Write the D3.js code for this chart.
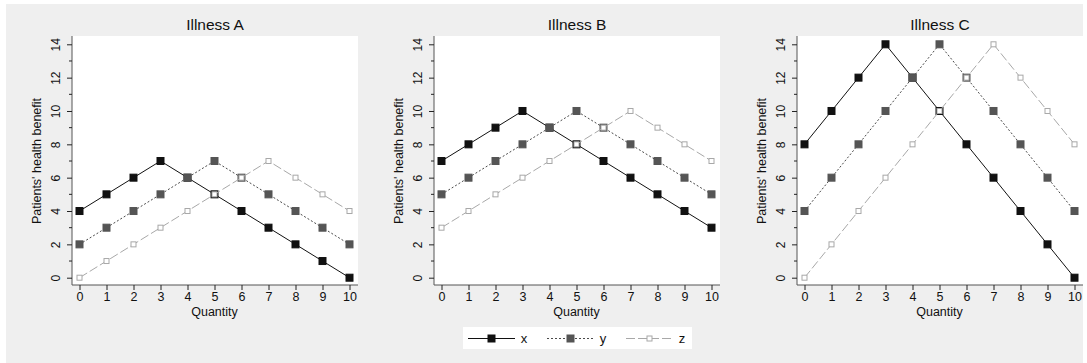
<!DOCTYPE html>
<html>
<head>
<meta charset="utf-8">
<script src="https://cdn.jsdelivr.net/npm/d3@7"></script>
<style>
  body { margin: 0; background: #fff; }
  svg { display: block; font-family: "Liberation Sans", Arial, sans-serif; }
</style>
</head>
<body>
<svg id="chart" width="1087" height="363"></svg>
<script>
// Chart data
const quantities = [0, 1, 2, 3, 4, 5, 6, 7, 8, 9, 10];
const panelTitles = ["Illness A", "Illness B", "Illness C"];
const seriesNames = ["x", "y", "z"];

const illnessA_x = [4, 5, 6, 7, 6, 5, 4, 3, 2, 1, 0];
const illnessA_y = [2, 3, 4, 5, 6, 7, 6, 5, 4, 3, 2];
const illnessA_z = [0, 1, 2, 3, 4, 5, 6, 7, 6, 5, 4];

const illnessB_x = [7, 8, 9, 10, 9, 8, 7, 6, 5, 4, 3];
const illnessB_y = [5, 6, 7, 8, 9, 10, 9, 8, 7, 6, 5];
const illnessB_z = [3, 4, 5, 6, 7, 8, 9, 10, 9, 8, 7];

const illnessC_x = [8, 10, 12, 14, 12, 10, 8, 6, 4, 2, 0];
const illnessC_y = [4, 6, 8, 10, 12, 14, 12, 10, 8, 6, 4];
const illnessC_z = [0, 2, 4, 6, 8, 10, 12, 14, 12, 10, 8];

const yMajorTicks = [0, 2, 4, 6, 8, 10, 12, 14];
const yMinorTicks = [1, 3, 5, 7, 9, 11, 13];

const panelData = [
    [illnessA_x, illnessA_y, illnessA_z],
    [illnessB_x, illnessB_y, illnessB_z],
    [illnessC_x, illnessC_y, illnessC_z]
];

// Styles per series
const styles = {
    x: { stroke: "#111", dash: null, fill: "#111", mstroke: "#111", size: 7 },
    y: { stroke: "#4a4a4a", dash: "2,2", fill: "#555", mstroke: "#555", size: 7 },
    z: { stroke: "#a8a8a8", dash: "9,3", fill: "#fff", mstroke: "#a8a8a8", size: 5 }
};

let svg = d3.select("#chart");

// Outer grey background
svg.append("rect")
    .attr("x", 6).attr("y", 4)
    .attr("width", 1077).attr("height", 359)
    .attr("fill", "#efefef");

// Plot region geometry (left edge of white area)
let plotLefts = [72, 434, 797];
let plotWidth = 286;
let plotTop = 36;
let plotBottom = 285;

let y = d3.scaleLinear().domain([0, 14]).range([277.7, 44.3]);

panelData.forEach((series, i) => {
    let left = plotLefts[i];
    let x = d3.scaleLinear().domain([0, 10]).range([left + 7.5, left + plotWidth - 8.5]);

    let g = svg.append("g");

    // White plot area
    g.append("rect")
        .attr("x", left).attr("y", plotTop)
        .attr("width", plotWidth).attr("height", plotBottom - plotTop)
        .attr("fill", "#fff");

    // Title
    g.append("text")
        .attr("x", left + plotWidth / 2)
        .attr("y", 30)
        .attr("text-anchor", "middle")
        .attr("font-size", 15.5)
        .attr("fill", "#111")
        .text(panelTitles[i]);

    // Y axis
    let yAxis = d3.axisLeft(y).tickValues(yMajorTicks).tickSize(5).tickSizeOuter(0);
    let yg = g.append("g")
        .attr("transform", `translate(${left},0)`)
        .call(yAxis);
    yg.select(".domain").attr("d", `M0,${plotTop}V${plotBottom}`).attr("stroke", "#555");
    yg.selectAll(".tick line").attr("stroke", "#222");
    yg.selectAll(".tick text")
        .attr("font-size", 12)
        .attr("fill", "#111")
        .attr("font-family", "Liberation Sans, Arial, sans-serif")
        .attr("transform", "rotate(-90, -12, 0)")
        .attr("x", -12)
        .attr("dy", "0.32em")
        .attr("text-anchor", "middle")
        .attr("y", -4);

    // Minor ticks
    g.append("g")
        .selectAll("line")
        .data(yMinorTicks)
        .enter()
        .append("line")
        .attr("x1", left - 3).attr("x2", left)
        .attr("y1", d => y(d)).attr("y2", d => y(d))
        .attr("stroke", "#222");

    // X axis
    let xAxis = d3.axisBottom(x).tickValues(quantities).tickSize(5).tickSizeOuter(0);
    let xg = g.append("g")
        .attr("transform", `translate(0,${plotBottom})`)
        .call(xAxis);
    xg.select(".domain").attr("d", `M${left},0H${left + plotWidth}`).attr("stroke", "#555");
    xg.selectAll(".tick line").attr("stroke", "#222");
    xg.selectAll(".tick text")
        .attr("font-size", 12.5)
        .attr("fill", "#111")
        .attr("font-family", "Liberation Sans, Arial, sans-serif")
        .attr("y", 7);

    // Axis titles
    g.append("text")
        .attr("x", (x(0) + x(10)) / 2)
        .attr("y", 316)
        .attr("text-anchor", "middle")
        .attr("font-size", 12.5)
        .attr("fill", "#111")
        .text("Quantity");

    g.append("text")
        .attr("transform", `translate(${left - 31},${(y(0) + y(14)) / 2}) rotate(-90)`)
        .attr("text-anchor", "middle")
        .attr("font-size", 12.5)
        .attr("fill", "#111")
        .text("Patients' health benefit");

    // Lines and markers, x first so y and z sit on top
    series.forEach((values, k) => {
        let st = styles[seriesNames[k]];
        let pts = quantities.map((q, j) => [q, values[j]]);
        let line = d3.line().x(d => x(d[0])).y(d => y(d[1]));

        g.append("path")
            .attr("d", line(pts))
            .attr("fill", "none")
            .attr("stroke", st.stroke)
            .attr("stroke-width", 1)
            .attr("stroke-dasharray", st.dash);

        g.append("g")
            .selectAll("rect")
            .data(pts)
            .enter()
            .append("rect")
            .attr("x", d => x(d[0]) - st.size / 2)
            .attr("y", d => y(d[1]) - st.size / 2)
            .attr("width", st.size)
            .attr("height", st.size)
            .attr("fill", st.fill)
            .attr("stroke", st.mstroke)
            .attr("stroke-width", 1);
    });
});

// Legend
let legend = svg.append("g");
legend.append("rect")
    .attr("x", 463).attr("y", 327)
    .attr("width", 229).attr("height", 22)
    .attr("fill", "#fff");

let legendX = d3.scalePoint().domain(seriesNames).range([468, 626]);
seriesNames.forEach((name) => {
    let st = styles[name];
    let lx = legendX(name);
    let cy = 338.5;
    legend.append("line")
        .attr("x1", lx).attr("x2", lx + 47)
        .attr("y1", cy).attr("y2", cy)
        .attr("stroke", st.stroke)
        .attr("stroke-width", 1)
        .attr("stroke-dasharray", st.dash);
    legend.append("rect")
        .attr("x", lx + 23.5 - st.size / 2)
        .attr("y", cy - st.size / 2)
        .attr("width", st.size).attr("height", st.size)
        .attr("fill", st.fill)
        .attr("stroke", st.mstroke);
    legend.append("text")
        .attr("x", lx + 56)
        .attr("y", cy + 4.5)
        .attr("text-anchor", "middle")
        .attr("font-size", 13)
        .attr("fill", "#111")
        .text(name);
});
</script>
</body>
</html>
